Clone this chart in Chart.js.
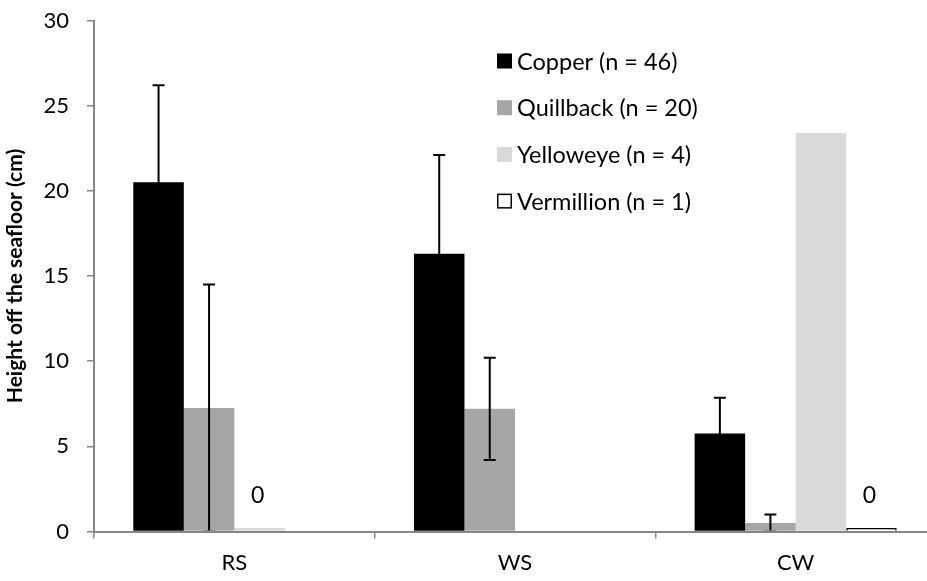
<!DOCTYPE html>
<html>
<head>
<meta charset="utf-8">
<script src="https://cdn.jsdelivr.net/npm/chart.js@4.4.1/dist/chart.umd.min.js"></script>
<style>
  html, body { margin: 0; padding: 0; background: #fff; }
  #wrap { width: 927px; height: 581px; overflow: hidden; }
</style>
</head>
<body>
<div id="wrap"><canvas id="chart" width="936" height="581"></canvas></div>
<script>
const categories = ['RS', 'WS', 'CW'];

const copper = [20.5, 16.3, 5.75];
const copperErr = [5.7, 5.8, 2.1];
const quillback = [7.25, 7.2, 0.5];
const quillbackErr = [7.25, 3.0, 0.5];
const yelloweye = [0.2, null, 23.4];
const vermillion = [null, null, 0.2];

const yelloweyeLabels = ['0', '', ''];
const vermillionLabels = ['', '', '0'];

const seriesNames = ['Copper (n = 46)', 'Quillback (n = 20)', 'Yelloweye (n = 4)', 'Vermillion (n = 1)'];

const FONT = 'Lato, "Open Sans", sans-serif';
const AXIS_GREY = '#868686';

// error bars (symmetric, capped), clipped at the x axis like in Excel
const errorBars = {
    id: 'errorBars',
    afterDatasetsDraw(chart) {
        const ctx = chart.ctx;
        const y = chart.scales.y;
        const area = chart.chartArea;
        ctx.save();
        ctx.beginPath();
        ctx.rect(area.left, area.top - 10, area.right - area.left, y.getPixelForValue(0) - 1 - (area.top - 10));
        ctx.clip();
        ctx.strokeStyle = '#000';
        ctx.lineWidth = 2;
        chart.data.datasets.forEach((ds, di) => {
            if (!ds.errors) return;
            const meta = chart.getDatasetMeta(di);
            ds.errors.forEach((e, i) => {
                if (e == null || ds.data[i] == null) return;
                const x = meta.data[i].x;
                const hi = y.getPixelForValue(ds.data[i] + e);
                const lo = y.getPixelForValue(ds.data[i] - e);
                ctx.beginPath();
                ctx.moveTo(x, hi); ctx.lineTo(x, lo);
                ctx.moveTo(x - 6, hi); ctx.lineTo(x + 6, hi);
                ctx.moveTo(x - 6, lo); ctx.lineTo(x + 6, lo);
                ctx.stroke();
            });
        });
        ctx.restore();
    }
};

// "0" labels above the tiny bars
const barLabels = {
    id: 'barLabels',
    afterDatasetsDraw(chart) {
        const ctx = chart.ctx;
        ctx.save();
        ctx.fillStyle = '#000';
        ctx.font = '23px ' + FONT;
        ctx.textAlign = 'center';
        ctx.textBaseline = 'middle';
        chart.data.datasets.forEach((ds, di) => {
            if (!ds.labels) return;
            const meta = chart.getDatasetMeta(di);
            ds.labels.forEach((t, i) => {
                if (!t) return;
                const el = meta.data[i];
                ctx.fillText(t, el.x - 2, el.y - 33);
            });
        });
        ctx.restore();
    }
};

// legend drawn inside the plot, one column
const innerLegend = {
    id: 'innerLegend',
    afterDraw(chart, args, opts) {
        const ctx = chart.ctx;
        ctx.save();
        ctx.font = '23.5px ' + FONT;
        ctx.textBaseline = 'middle';
        chart.data.datasets.forEach((ds, i) => {
            const cy = opts.y + i * opts.step;
            ctx.fillStyle = ds.backgroundColor;
            ctx.fillRect(opts.x, cy - 7.5, 15, 15);
            if (ds.borderWidth) {
                ctx.strokeStyle = ds.borderColor;
                ctx.lineWidth = 1.5;
                ctx.strokeRect(opts.x + 0.75, cy - 6.75, 13.5, 13.5);
            }
            ctx.fillStyle = '#000';
            ctx.fillText(ds.label, opts.x + 20, cy + 1);
        });
        ctx.restore();
    }
};

new Chart(document.getElementById('chart'), {
    type: 'bar',
    data: {
        labels: categories,
        datasets: [
            { label: seriesNames[0], data: copper, errors: copperErr, backgroundColor: '#000000', borderWidth: 0 },
            { label: seriesNames[1], data: quillback, errors: quillbackErr, backgroundColor: '#A6A6A6', borderWidth: 0 },
            { label: seriesNames[2], data: yelloweye, labels: yelloweyeLabels, backgroundColor: '#D9D9D9', borderWidth: 0 },
            { label: seriesNames[3], data: vermillion, labels: vermillionLabels, backgroundColor: '#FFFFFF', borderColor: '#000000', borderWidth: 1.5 },
        ],
    },
    options: {
        responsive: false,
        animation: false,
        devicePixelRatio: 1,
        categoryPercentage: 0.72,
        barPercentage: 1.0,
        layout: { padding: { top: 20.5, right: 0, bottom: 0, left: 0 } },
        plugins: {
            legend: { display: false },
            tooltip: { enabled: false },
            innerLegend: { x: 497, y: 61, step: 46.7 },
        },
        scales: {
            x: {
                grid: { offset: true, drawOnChartArea: false, tickLength: 7, color: AXIS_GREY, lineWidth: 1.5 },
                border: { color: AXIS_GREY, width: 2 },
                ticks: { color: '#000', font: { family: FONT, size: 22 }, padding: 11 },
                afterFit: (s) => { s.height = 49.5; s.paddingLeft = 0; s.paddingRight = 0; },
            },
            y: {
                min: 0,
                max: 30,
                ticks: { stepSize: 5, color: '#000', font: { family: FONT, size: 22 }, padding: 18 },
                grid: { drawOnChartArea: false, tickLength: 7, color: AXIS_GREY, lineWidth: 1.5 },
                border: { color: AXIS_GREY, width: 2 },
                title: {
                    display: true,
                    text: 'Height off the seafloor (cm)',
                    color: '#000',
                    font: { family: FONT, size: 21, weight: 'bold' },
                    padding: { top: 3, bottom: 0 },
                },
                afterFit: (s) => { s.width = 94; s.paddingTop = 0; s.paddingBottom = 0; },
            },
        },
    },
    plugins: [errorBars, barLabels, innerLegend],
});
</script>
</body>
</html>
